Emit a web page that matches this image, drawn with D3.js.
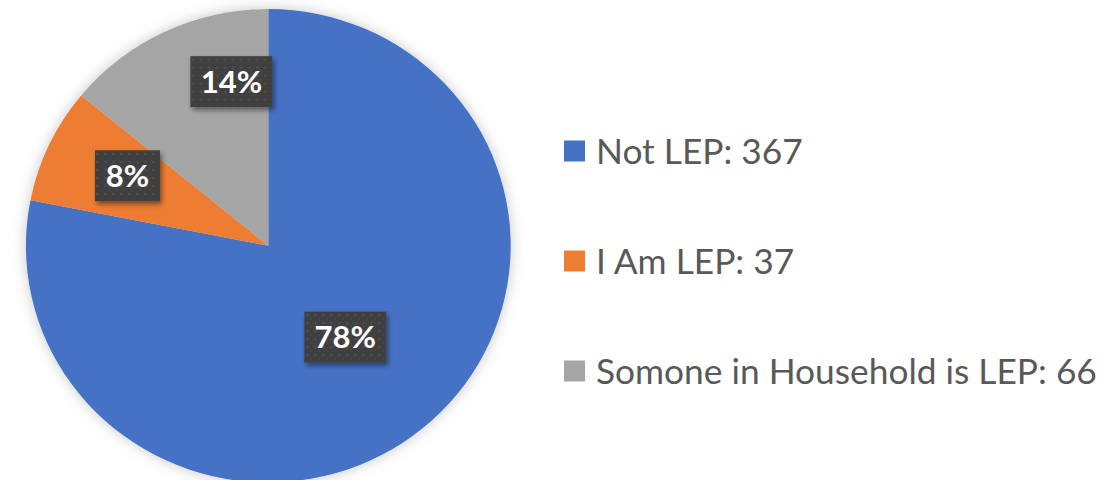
<!DOCTYPE html>
<html>
<head>
<meta charset="utf-8">
<script src="https://cdn.jsdelivr.net/npm/d3@7"></script>
<style>
  html, body { margin: 0; padding: 0; background: #ffffff; }
  svg { display: block; }
</style>
</head>
<body>
<div id="chart"></div>
<script>
const categories = ["Not LEP", "I Am LEP", "Somone in Household is LEP"];
const values = [367, 37, 66];
const colors = ["#4472C4", "#ED7D31", "#A5A5A5"];
const pctLabels = ["78%", "8%", "14%"];

const W = 1105, H = 480;
const cx = 268.3, cy = 245.8, R = 242.4, yScale = 0.9765;

const svg = d3.select("#chart").append("svg").attr("width", W).attr("height", H);
const defs = svg.append("defs");

const glow = defs.append("filter").attr("id", "glow").attr("x", "-20%").attr("y", "-20%").attr("width", "140%").attr("height", "140%");
glow.append("feDropShadow").attr("dx", 0).attr("dy", 0).attr("stdDeviation", 7).attr("flood-color", "#000").attr("flood-opacity", 0.22);

const boxShadow = defs.append("filter").attr("id", "boxShadow").attr("x", "-30%").attr("y", "-30%").attr("width", "160%").attr("height", "160%");
boxShadow.append("feDropShadow").attr("dx", 2).attr("dy", 3).attr("stdDeviation", 2.5).attr("flood-color", "#000").attr("flood-opacity", 0.45);

const pat = defs.append("pattern").attr("id", "dots").attr("patternUnits", "userSpaceOnUse").attr("width", 8).attr("height", 8);
pat.append("rect").attr("width", 8).attr("height", 8).attr("fill", "#3f3f3f");
pat.append("circle").attr("cx", 2).attr("cy", 2).attr("r", 1).attr("fill", "#5a5a5a");
pat.append("circle").attr("cx", 6).attr("cy", 6).attr("r", 0.7).attr("fill", "#4c4c4c");

const pie = d3.pie().sort(null).value(d => d)(values);
const arc = d3.arc().innerRadius(0).outerRadius(R);

const g = svg.append("g").attr("transform", `translate(${cx},${cy}) scale(1,${yScale})`);
g.append("g").attr("filter", "url(#glow)")
  .selectAll("path").data(pie).join("path")
  .attr("d", arc)
  .attr("fill", (d, i) => colors[i]);

// Data label placement: fraction along each slice's angle span, and fraction of radius
const labelAngleFrac = [0.5, 0.56, 0.755];
const labelRadiusFrac = [0.50, 0.652, 0.71];
const boxW = [82, 65, 82], boxH = 51;
const labels = svg.append("g");
pie.forEach((d, i) => {
  const a = d.startAngle + (d.endAngle - d.startAngle) * labelAngleFrac[i];
  const r = R * labelRadiusFrac[i];
  const x = cx + r * Math.sin(a);
  const y = cy - r * Math.cos(a) * yScale;
  const lg = labels.append("g").attr("transform", `translate(${x},${y})`);
  lg.append("rect")
    .attr("x", -boxW[i] / 2).attr("y", -boxH / 2)
    .attr("width", boxW[i]).attr("height", boxH)
    .attr("fill", "url(#dots)")
    .attr("filter", "url(#boxShadow)");
  lg.append("text")
    .attr("text-anchor", "middle").attr("dy", "0.36em")
    .attr("fill", "#ffffff")
    .attr("font-family", "Lato, 'Open Sans', sans-serif")
    .attr("font-weight", "bold")
    .attr("font-size", 31)
    .text(pctLabels[i]);
});

// Legend
const legendY = d3.scalePoint().domain(categories).range([151, 371]);
const leg = svg.append("g");
categories.forEach((c, i) => {
  const y = legendY(c);
  leg.append("rect").attr("x", 564).attr("y", y - 10.5).attr("width", 21).attr("height", 21).attr("fill", colors[i]);
  leg.append("text")
    .attr("x", 596).attr("y", y).attr("dy", "0.36em")
    .attr("fill", "#595959")
    .attr("font-family", "Lato, 'Open Sans', sans-serif")
    .attr("font-size", 35.3)
    .text(`${c}: ${values[i]}`);
});
</script>
</body>
</html>
